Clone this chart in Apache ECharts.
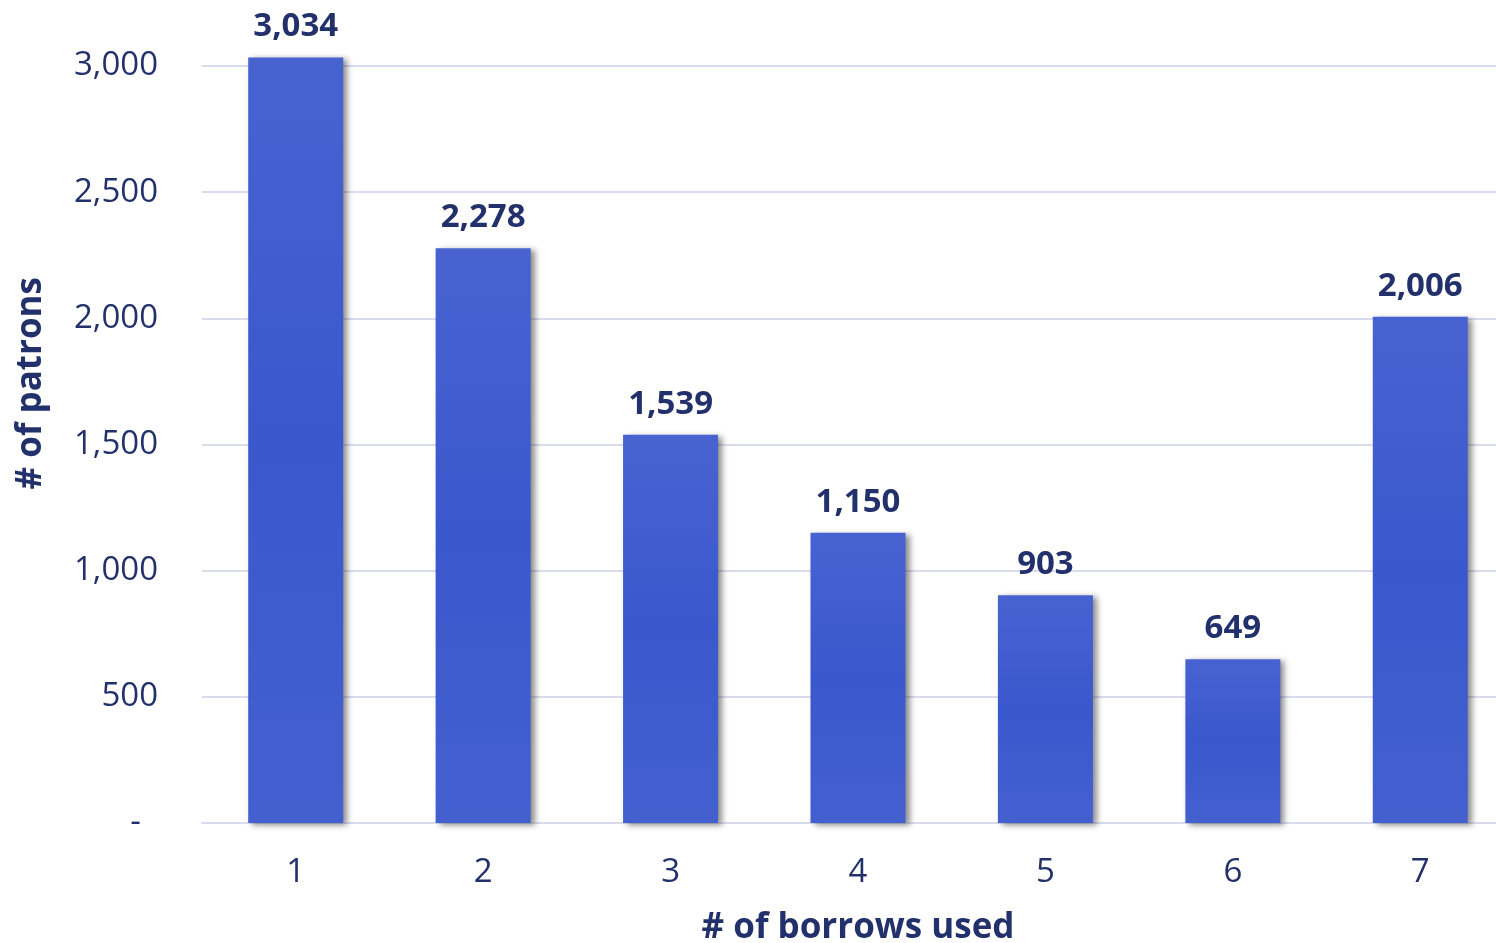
<!DOCTYPE html>
<html>
<head>
<meta charset="utf-8">
<title>Patrons by borrows used</title>
<script src="https://cdn.jsdelivr.net/npm/echarts@6/dist/echarts.min.js"></script>
<style>
  html, body { margin: 0; padding: 0; background: #fff; }
  #chart { width: 1496px; height: 943px; }
</style>
</head>
<body>
<div id="chart"></div>
<script>
// data
const borrows = ['1', '2', '3', '4', '5', '6', '7'];
const patrons = [3034, 2278, 1539, 1150, 903, 649, 2006];

const navy = '#22306b';
const fontName = '"Open Sans", "Noto Sans", sans-serif';

function fmt(v) {
  if (v === 0) return '-  ';
  return v.toLocaleString('en-US');
}

const chart = echarts.init(document.getElementById('chart'));
chart.setOption({
  animation: false,
  textStyle: { fontFamily: fontName },
  // plot runs a bit past the right edge, like the original
  grid: { left: 202, top: 66, width: 1312, height: 757, containLabel: false, outerBoundsMode: 'none' },
  graphic: [{
    type: 'text',
    left: 14,
    top: 277,
    rotation: Math.PI / 2,
    style: {
      text: '# of patrons',
      fill: navy,
      font: 'bold 35px ' + fontName
    }
  }],
  xAxis: {
    type: 'category',
    data: borrows,
    name: '# of borrows used',
    nameLocation: 'middle',
    nameGap: 88,
    nameTextStyle: { color: navy, fontSize: 35, fontWeight: 'bold', fontFamily: fontName },
    axisLine: { lineStyle: { color: '#d9dcef', width: 2 } },
    axisTick: { show: false },
    axisLabel: { color: navy, fontSize: 33, margin: 33, fontFamily: fontName }
  },
  yAxis: {
    type: 'value',
    min: 0,
    max: 3000,
    interval: 500,
    axisLine: { show: false },
    axisTick: { show: false },
    splitLine: { lineStyle: { color: '#d9dcef', width: 2 } },
    axisLabel: { color: navy, fontSize: 33, margin: 44, formatter: fmt, fontFamily: fontName }
  },
  series: [{
    type: 'bar',
    data: patrons,
    barWidth: 95,
    clip: false,
    itemStyle: {
      color: new echarts.graphic.LinearGradient(0, 0, 0, 1, [
        { offset: 0, color: '#4862d0' },
        { offset: 0.5, color: '#3a58cd' },
        { offset: 1, color: '#4460cf' }
      ]),
      shadowColor: 'rgba(0,0,0,0.45)',
      shadowBlur: 6,
      shadowOffsetX: 4,
      shadowOffsetY: 2
    },
    label: {
      show: true,
      position: 'top',
      distance: 14,
      color: navy,
      fontSize: 33,
      fontWeight: 'bold',
      fontFamily: fontName,
      formatter: p => fmt(p.value)
    }
  }]
});
</script>
</body>
</html>
